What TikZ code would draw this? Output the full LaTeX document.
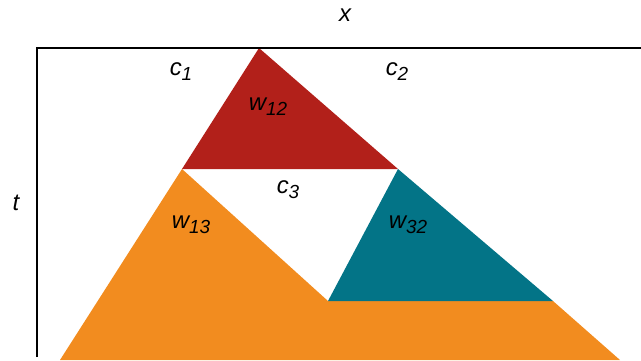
\documentclass[tikz,border=0pt]{standalone}
\usepackage{fontspec}
\setmainfont{Liberation Sans}
\definecolor{redw}{HTML}{B2201A}
\definecolor{orangew}{HTML}{F28C1F}
\definecolor{tealw}{HTML}{037487}
\newcommand{\lowidx}[1]{\raisebox{-5bp}{\fontsize{19}{22}\selectfont #1}}

\begin{document}
\begin{tikzpicture}[x=1bp,y=-1bp,font=\fontsize{24}{28}\selectfont\itshape]
\useasboundingbox (0,0) rectangle (641,360);
\fill[orangew] (182,169)--(328,301)--(553,301)--(620,360)--(60,360)--cycle;
\fill[tealw] (398,169)--(553,301)--(328,301)--cycle;
\fill[redw] (259,48)--(398,169)--(182,169)--cycle;
\draw[line width=1.2bp] (37,357)--(37,48)--(641,48);
\node (x) at (345,15) {x};
\node (t) at (16,203) {t};
\node (c1) at (181,72) {c\lowidx{1}};
\node (c2) at (397,72) {c\lowidx{2}};
\node (c3) at (288,190) {c\lowidx{3}};
\node (w12) at (268,107) {w\lowidx{12}};
\node (w13) at (191,225) {w\lowidx{13}};
\node (w32) at (408,225) {w\lowidx{32}};
\end{tikzpicture}
\end{document}
